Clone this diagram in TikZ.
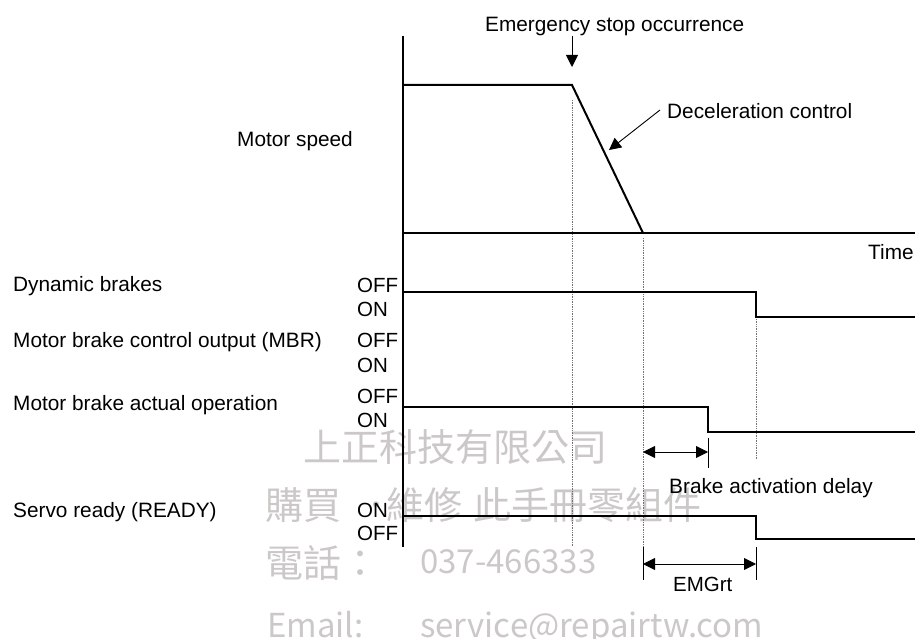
\documentclass[tikz,border=0pt]{standalone}
\usepackage{fontspec}
\setmainfont{Liberation Sans}
\newfontfamily\wmfont{Noto Sans CJK TC}
\usetikzlibrary{arrows.meta,positioning}
\definecolor{wmgray}{RGB}{204,200,200}

\begin{document}
\begin{tikzpicture}[x=1pt, y=-1pt,
  sig/.style={line width=2pt, line join=miter},
  guide/.style={densely dotted, black!55, line width=0.7pt},
  arr/.style={-{Triangle[length=12pt,width=12pt]}, line width=0.9pt},
  dim/.style={{Triangle[length=12pt,width=12pt]}-{Triangle[length=12pt,width=12pt]},
              line width=0.9pt},
  tick/.style={line width=0.9pt},
  lbl/.style={font=\fontsize{20.8}{24}\selectfont, inner sep=0pt, anchor=base west},
  lvl/.style={font=\fontsize{20.5}{24}\selectfont, inner sep=0pt, anchor=base west},
  wm/.style={font=\wmfont\fontsize{38}{40}\selectfont, text=wmgray,
             inner sep=0pt, anchor=west},
  wmlat/.style={font=\wmfont\fontsize{33}{36}\selectfont, text=wmgray,
                inner sep=0pt, anchor=base west},
]
\useasboundingbox (0,0) rectangle (915,639);

%% ---- Time marks (left to right)
\def\xa{403}  % vertical axis
\def\ta{572}  % emergency stop
\def\tb{643}  % speed reaches zero
\def\tc{708}  % brake actually applied
\def\td{756}  % dynamic brake / servo ready change
\def\xe{915}  % right end

%% ---- Signal levels (top to bottom)
\def\ms{85}   % motor speed, running
\def\mz{233}  % motor speed zero / time axis
\def\dbh{292} \def\dbl{317}  % dynamic brakes
\def\bah{407} \def\bal{432}  % brake actual operation
\def\srh{516} \def\srl{539}  % servo ready

%% ======== Watermark (behind) ========
\node[wm] (wma) at (303,447) {上正科技有限公司};
\node[wm] (wmb) at (265,505)
  {購買\hspace{16pt}．\hspace{-9pt}維修\hspace{11pt}此手冊零組件};
\node[wm] (wmc) at (265,563) {電話：};
\node[wmlat] (wmd) at (420,573) {037-466333};
\node[wmlat] (wme) at (267,637) {Email:};
\node[wmlat] (wmf) at (420,637) {service@repairtw.com};

%% ======== Axis and guides ========
\draw[sig] (\xa,36) -- (\xa,547);
\draw[guide] (\ta,100) -- (\ta,547);
\draw[guide] (\tb,238) -- (\tb,547);
\draw[guide] (\td,319) -- (\td,460);

%% ======== Motor speed ========
\node[lbl] (speed) at (237,147) {Motor speed};
\draw[sig] (\xa,\ms) -- (\ta,\ms) -- (\tb,\mz);
\draw[sig] (\xa,\mz) -- (\xe,\mz);
\node[lbl] (time) at (868,259) {Time};

\node[lbl] (emg) at (485,32) {Emergency stop occurrence};
\coordinate (emgtop) at (\ta,36);
\coordinate (emgtip) at (\ta,67);
\draw[arr] (emgtop) -- (emgtip);

\node[lbl] (decel) at (667,119) {Deceleration control};
\coordinate (decfrom) at (660,110);
\coordinate (decto) at (609,150);
\draw[arr] (decfrom) -- (decto);

%% ======== Dynamic brakes ========
\node[lbl] (dyn) at (13,291) {Dynamic brakes};
\node[lvl] (dynoff) at (357,292) {OFF};
\node[lvl] (dynon)  at (357,316) {ON};
\draw[sig] (\xa,\dbh) -- (\td,\dbh) -- (\td,\dbl) -- (\xe,\dbl);

%% ======== Motor brake control output ========
\node[lbl] (mbr) at (13,347) {Motor brake control output (MBR)};
\node[lvl] (mbroff) at (357,347) {OFF};
\node[lvl] (mbron)  at (357,372) {ON};

%% ======== Motor brake actual operation ========
\node[lbl] (act) at (13,410) {Motor brake actual operation};
\node[lvl] (actoff) at (357,403) {OFF};
\node[lvl] (acton)  at (357,427) {ON};
\draw[sig] (\xa,\bah) -- (\tc,\bah) -- (\tc,\bal) -- (\xe,\bal);

% brake activation delay
\coordinate (bdl) at (\tb,452);
\coordinate (bdr) at (\tc,452);
\draw[dim] (bdl) -- (bdr);
\draw[tick] (\tc,438) -- (\tc,468);
\node[lbl] (bdelay) at (669,493) {Brake activation delay};

%% ======== Servo ready ========
\node[lbl] (srv) at (13,517) {Servo ready (READY)};
\node[lvl] (srvon)  at (357,517) {ON};
\node[lvl] (srvoff) at (357,540) {OFF};
\draw[sig] (\xa,\srh) -- (\td,\srh) -- (\td,\srl) -- (\xe,\srl);

% EMGrt
\draw[tick] (\tb,547) -- (\tb,580);
\draw[tick] (\td,547) -- (\td,580);
\coordinate (eml) at (\tb,564);
\coordinate (emr) at (\td,564);
\draw[dim] (eml) -- (emr);
\node[lvl] (emgrt) at (673,591) {EMGrt};

\end{tikzpicture}
\end{document}
